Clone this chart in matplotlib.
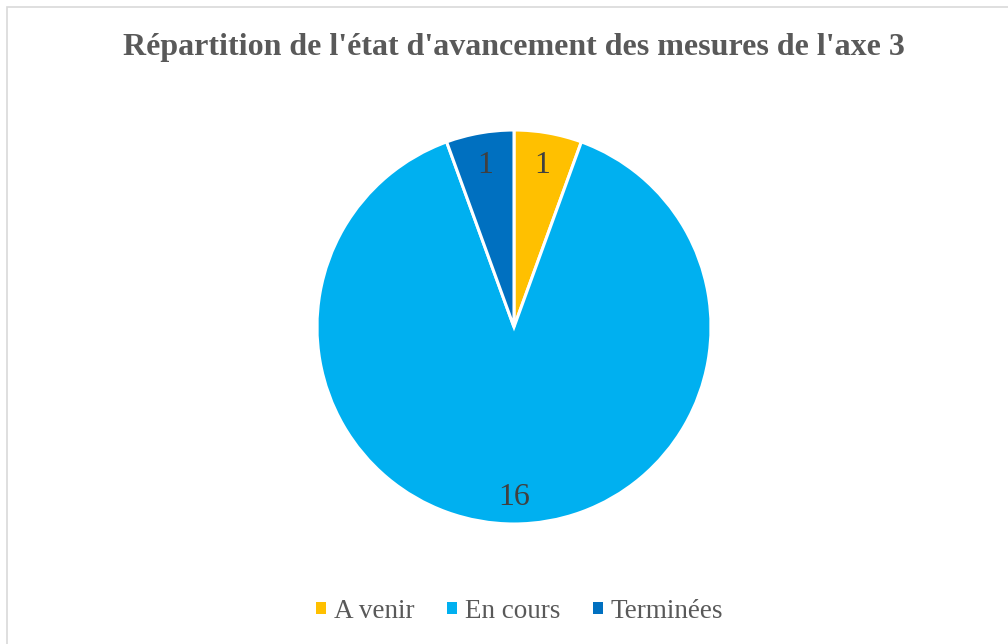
import numpy as np
import matplotlib.pyplot as plt
from matplotlib.patches import Rectangle, Patch

plt.rcParams['font.family'] = ['Liberation Serif', 'DejaVu Serif']

categories = ["A venir", "En cours", "Terminées"]
values = [1, 16, 1]
colors = ["#FFC000", "#00B0F0", "#0070C0"]
title = "Répartition de l'état d'avancement des mesures de l'axe 3"

fig = plt.figure(figsize=(10.08, 6.44), dpi=100)

# cadre gris clair du graphique
fig.patches.append(Rectangle((7 / 1008, -0.1), 1.2, 1 - 7 / 644 + 0.1,
                             transform=fig.transFigure, fill=False,
                             edgecolor="#D9D9D9", linewidth=1.2))

# camembert centré, rayon ~197 px
cx, cy, r = 514, 327, 197
ax = fig.add_axes([(cx - r) / 1008, 1 - (cy + r) / 644, 2 * r / 1008, 2 * r / 644])
wedges, _ = ax.pie(values, colors=colors, startangle=90, counterclock=False,
                   wedgeprops=dict(edgecolor="white", linewidth=2.2))

# étiquettes de valeurs, un peu plus loin pour la grande part
label_dist = [0.83, 0.865, 0.83]
for w, v, d in zip(wedges, values, label_dist):
    ang = np.deg2rad((w.theta1 + w.theta2) / 2)
    ax.text(d * np.cos(ang), d * np.sin(ang), str(v), ha="center", va="center",
            fontsize=23, color="#404040")
ax.set_xlim(-1, 1)
ax.set_ylim(-1, 1)
ax.set_aspect("equal")
ax.axis("off")

fig.text(514 / 1008, 1 - 47 / 644, title, ha="center", va="center",
         fontsize=23, fontweight="bold", color="#595959")

handles = [Patch(facecolor=c, edgecolor="none") for c in colors]
fig.legend(handles, categories, loc="center", bbox_to_anchor=(519.5 / 1008, 1 - 611 / 644),
           ncol=3, frameon=False, fontsize=19.5, labelcolor="#595959",
           handlelength=0.37, handleheight=0.33, handletextpad=0.3, columnspacing=1.2)

fig.savefig("out.png", dpi=100, facecolor="white")
